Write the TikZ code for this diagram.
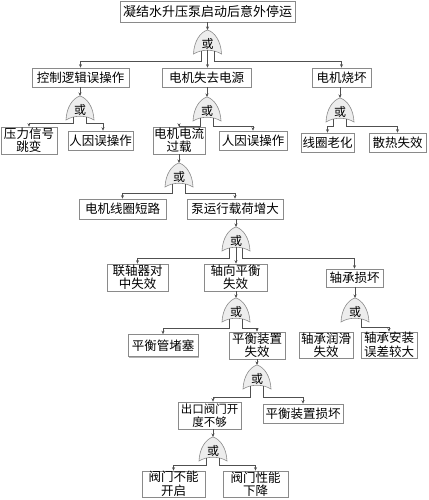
\documentclass[tikz,border=0pt]{standalone}
\usepackage{fontspec}
\newfontfamily\cjk{Noto Sans CJK SC}
\usetikzlibrary{shadows,arrows.meta,calc}
\definecolor{bord}{HTML}{8A8A8A}
\definecolor{shad}{HTML}{B4B4B4}
\definecolor{ln}{HTML}{505050}
\definecolor{gatefill}{HTML}{EDEDED}
\newcommand{\orgate}[3]{%
  \coordinate (#1) at (#2,#3);
  \path[draw=bord, fill=gatefill, line width=0.6pt, shift={(#1)}]
    (0,0) .. controls (7,2) and (13.5,11) .. (14,24)
    .. controls (6,19) and (-6,19) .. (-14,24)
    .. controls (-13.5,11) and (-7,2) .. (0,0) -- cycle;
  \node[gtext] (#1t) at ($(#1)+(0,13.5)$) {或};
  \coordinate (#1l) at ($(#1)+(-6.5,21)$);
  \coordinate (#1r) at ($(#1)+(6.5,21)$);
  \coordinate (#1c) at ($(#1)+(0,20)$);
}
\begin{document}
\begin{tikzpicture}[x=1pt,y=-1pt,
  box/.style={draw=bord, line width=0.6pt, fill=white, inner sep=0pt, align=center,
    font=\cjk\fontsize{12.5}{13.5}\selectfont,
    drop shadow={shadow xshift=1.3pt, shadow yshift=-1.3pt, fill=shad, opacity=1}},
  gtext/.style={font=\cjk\fontsize{12}{12}\selectfont, inner sep=0pt},
  arr/.style={draw=ln, line width=0.6pt, -{Stealth[length=3.5pt,width=3pt]}}]
\useasboundingbox[fill=white] (0,0) rectangle (428,500);

% boxes
\node[box, minimum width=175pt, minimum height=21pt, font=\cjk\fontsize{13}{14}\selectfont] (top) at (207.5,11.5) {凝结水升压泵启动后意外停运};
\node[box, minimum width=97pt, minimum height=19pt] (ctrl) at (80.5,77.5) {控制逻辑误操作};
\node[box, minimum width=89pt, minimum height=19pt] (power) at (206.5,77.5) {电机失去电源};
\node[box, minimum width=59pt, minimum height=19pt] (burn) at (341.5,77.5) {电机烧坏};
\node[box, minimum width=56pt, minimum height=27pt] (press) at (29,140.5) {压力信号\\跳变};
\node[box, minimum width=65pt, minimum height=19pt] (hum1) at (100.5,140.5) {人因误操作};
\node[box, minimum width=52pt, minimum height=27pt] (over) at (179,140.5) {电机电流\\过载};
\node[box, minimum width=68pt, minimum height=19pt] (hum2) at (253,140.5) {人因误操作};
\node[box, minimum width=53pt, minimum height=19pt] (aging) at (327.5,142.5) {线圈老化};
\node[box, minimum width=57pt, minimum height=19pt] (heat) at (397.5,142.5) {散热失效};
\node[box, minimum width=87pt, minimum height=20pt] (short) at (122.5,209) {电机线圈短路};
\node[box, minimum width=96pt, minimum height=20pt] (load) at (235,209) {泵运行载荷增大};
\node[box, minimum width=61pt, minimum height=27pt] (coup) at (137.5,277.5) {联轴器对\\中失效};
\node[box, minimum width=63pt, minimum height=27pt] (axial) at (235.5,277.5) {轴向平衡\\失效};
\node[box, minimum width=57pt, minimum height=18pt] (bear) at (354.5,278) {轴承损坏};
\node[box, minimum width=70pt, minimum height=22pt] (pipe) at (163,345.5) {平衡管堵塞};
\node[box, minimum width=56pt, minimum height=27pt] (balf) at (257,345.5) {平衡装置\\失效};
\node[box, minimum width=54pt, minimum height=26pt] (lub) at (326,345) {轴承润滑\\失效};
\node[box, minimum width=56pt, minimum height=26pt] (inst) at (389,345) {轴承安装\\误差较大};
\node[box, minimum width=63pt, minimum height=27pt, font=\cjk\fontsize{11.5}{13.5}\selectfont] (outl) at (209.5,415.5) {出口阀门开\\度不够};
\node[box, minimum width=80pt, minimum height=19pt] (bald) at (303,413.5) {平衡装置损坏};
\node[box, minimum width=63pt, minimum height=26pt] (vopen) at (173.5,484) {阀门不能\\开启};
\node[box, minimum width=65pt, minimum height=26pt] (vperf) at (255.5,484) {阀门性能\\下降};

% gates
\orgate{g1}{207.5}{30}
\orgate{g2}{80}{96}
\orgate{g3}{207}{97}
\orgate{g4}{340}{98}
\orgate{g5}{179}{163}
\orgate{g6}{236}{227}
\orgate{g7}{236}{298}
\orgate{g8}{355}{298}
\orgate{g9}{257}{365}
\orgate{g10}{213}{437}

\coordinate (g1b) at (0,61);
\coordinate (g2b) at (0,123);
\coordinate (g3b) at (0,126);
\coordinate (g4b) at (0,126);
\coordinate (g5b) at (0,193);
\coordinate (g6b) at (0,258);
\coordinate (g7b) at (0,328);
\coordinate (g8b) at (0,327);
\coordinate (g9b) at (0,397);
\coordinate (g10b) at (0,465);

% parent -> gate
\draw[arr] (top.south -| g1) -- (g1);
\draw[arr] (ctrl.south -| g2) -- (g2);
\draw[arr] (power.south -| g3) -- (g3);
\draw[arr] (burn.south -| g4) -- (g4);
\draw[arr] (over.south -| g5) -- (g5);
\draw[arr] (load.south -| g6) -- (g6);
\draw[arr] (axial.south -| g7) -- (g7);
\draw[arr] (bear.south -| g8) -- (g8);
\draw[arr] (balf.south -| g9) -- (g9);
\draw[arr] (outl.south -| g10) -- (g10);

% gate -> children
\draw[arr] (g1l) -- (g1l |- g1b) -| (ctrl.north);
\draw[arr] (g1c) -- (g1c |- power.north);
\draw[arr] (g1r) -- (g1r |- g1b) -| (burn.north);

\draw[arr] (g2l) -- (g2l |- g2b) -| (press.north);
\draw[arr] (g2r) -- (g2r |- g2b) -| ($(hum1.north)+(2.5,0)$);

\draw[arr] (g3l) -- (g3l |- g3b) -| (over.north);
\draw[arr] (g3r) -- (g3r |- g3b) -| (hum2.north);

\draw[arr] (g4l) -- (g4l |- g4b) -| (aging.north);
\draw[arr] (g4r) -- (g4r |- g4b) -| (heat.north);

\draw[arr] (g5l) -- (g5l |- g5b) -| (short.north);
\draw[arr] (g5r) -- (g5r |- g5b) -| (load.north);

\draw[arr] (g6l) -- (g6l |- g6b) -| (coup.north);
\draw[arr] (g6c) -- (g6c |- axial.north);
\draw[arr] (g6r) -- (g6r |- g6b) -| (bear.north);

\draw[arr] (g7l) -- (g7l |- g7b) -| (pipe.north);
\draw[arr] (g7r) -- (g7r |- g7b) -| (balf.north);

\draw[arr] (g8r) -- (g8r |- g8b) -| (inst.north);

\draw[arr] (g9l) -- (g9l |- g9b) -| (outl.north -| g10);
\draw[arr] (g9r) -- (g9r |- g9b) -| (bald.north);

\draw[arr] (g10l) -- (g10l |- g10b) -| (vopen.north);
\draw[arr] (g10r) -- (g10r |- g10b) -| (vperf.north);
\end{tikzpicture}
\end{document}
